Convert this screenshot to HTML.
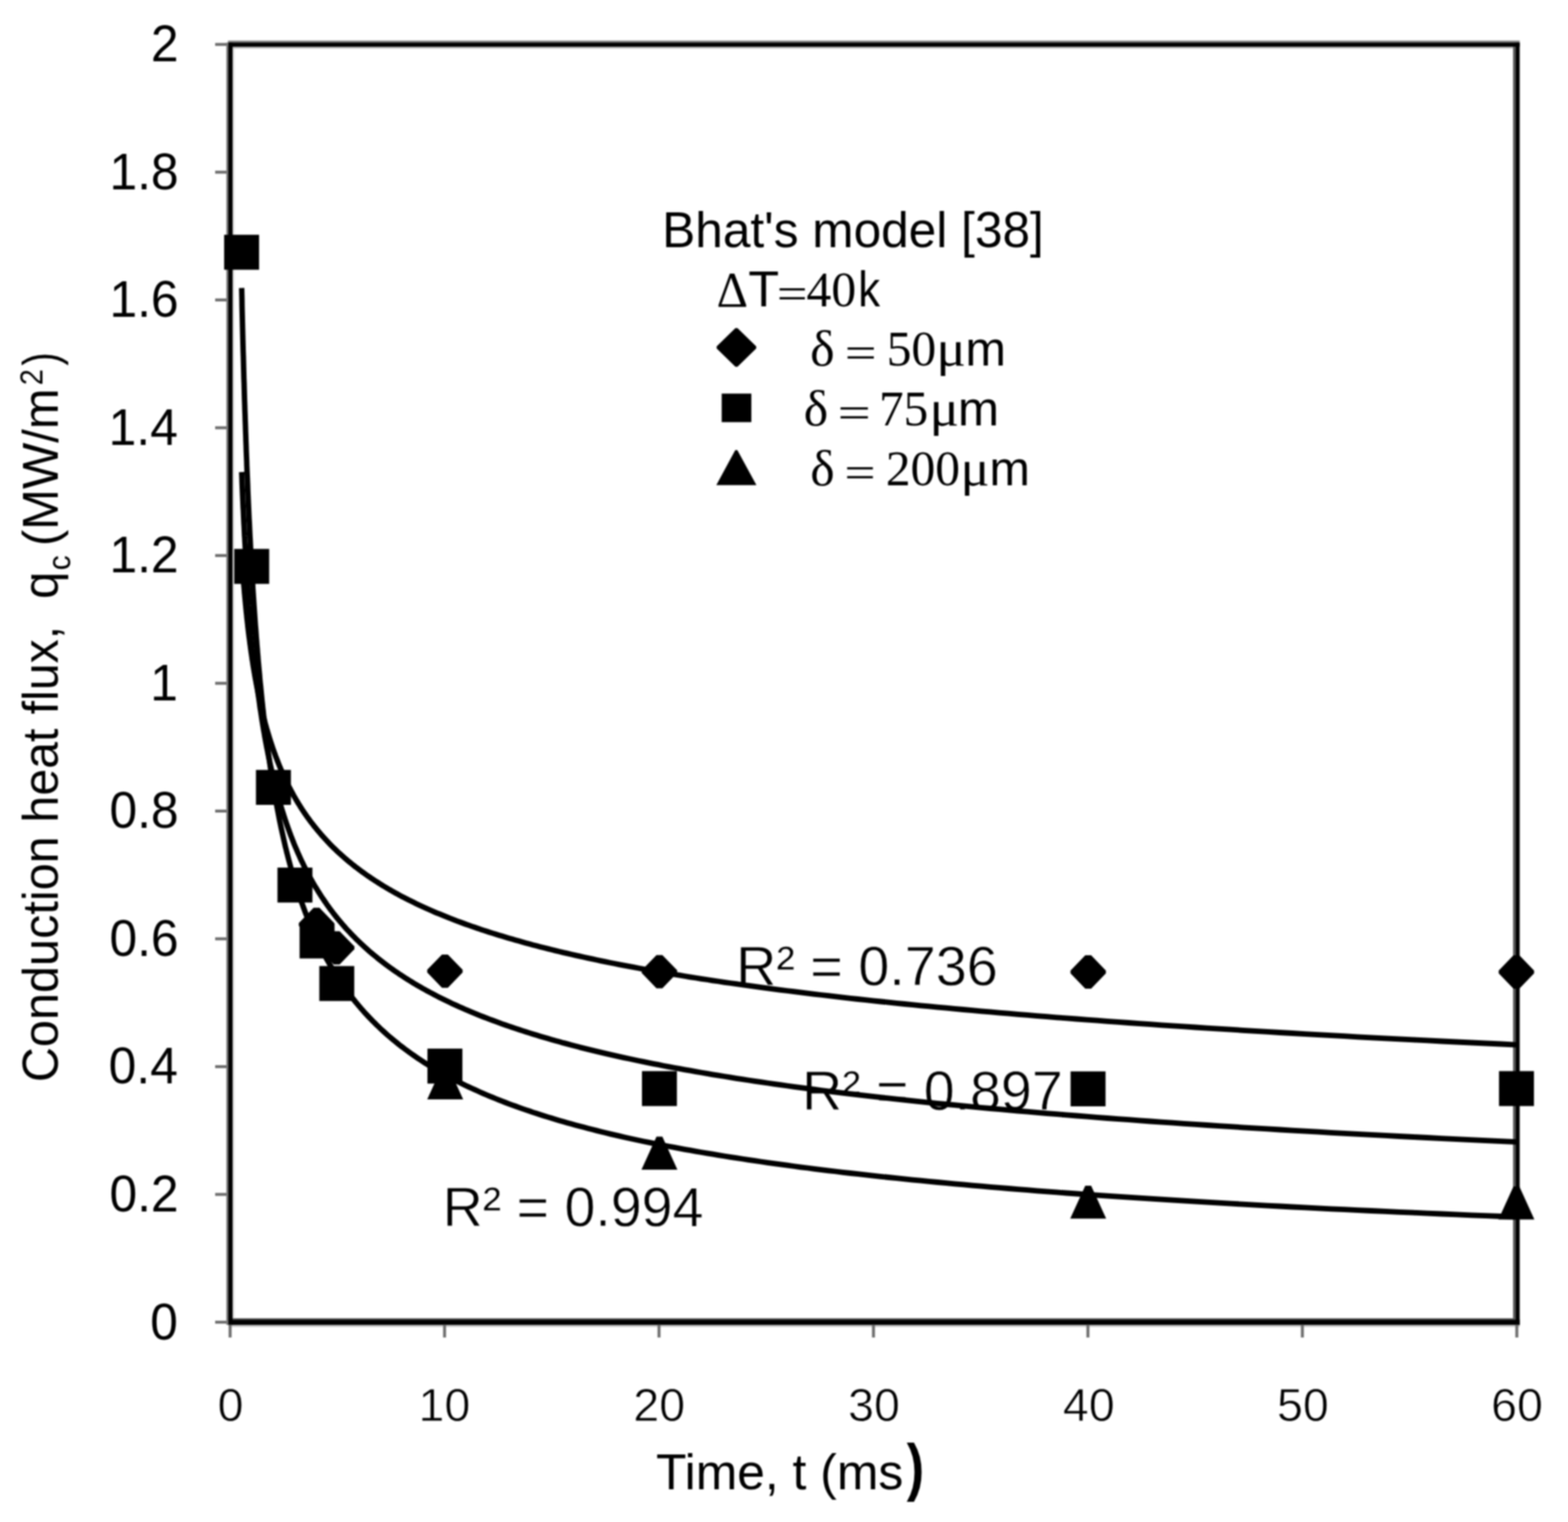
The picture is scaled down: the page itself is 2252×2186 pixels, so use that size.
<!DOCTYPE html>
<html lang="en"><head><meta charset="utf-8"><title>Conduction heat flux vs time</title>
<style>
html,body{margin:0;padding:0;background:#fff;}
body{width:2252px;height:2186px;overflow:hidden;}
svg{display:block;filter:blur(1px);}
text{font-family:"Liberation Sans",sans-serif;fill:#000;}
.tick{stroke:#6c6c6c;stroke-width:4.2;fill:none;}
.curve{stroke:#000;stroke-width:7.8;fill:none;stroke-linecap:butt;stroke-linejoin:round;}
</style></head><body>
<svg width="2252" height="2186" viewBox="0 0 2252 2186">
<rect x="0" y="0" width="2252" height="2186" fill="#fff"/>
<g>
<rect x="334.10" y="67.10" width="2.50" height="1826.50" fill="#dcdcdc"/>
<rect x="334.10" y="67.10" width="1839.00" height="2.50" fill="#b4b4b4"/>
<rect x="328.00" y="1902.90" width="1854.60" height="2.90" fill="#c4c4c4"/>
<rect x="325.10" y="61.10" width="2.90" height="1841.80" fill="#757575"/>
<rect x="327.40" y="58.30" width="1855.20" height="2.80" fill="#808080"/>
<rect x="2173.10" y="67.10" width="3.50" height="1826.50" fill="#555555"/>
<rect x="334.10" y="1893.60" width="1842.50" height="1.80" fill="#303030"/>
<rect x="328.00" y="61.10" width="6.10" height="1841.80" fill="#000"/>
<rect x="328.00" y="61.10" width="1854.60" height="6.00" fill="#000"/>
<rect x="2176.60" y="61.10" width="6.00" height="1841.80" fill="#000"/>
<rect x="328.00" y="1895.40" width="1854.60" height="7.50" fill="#000"/>
</g>
<g class="tick">
<line x1="309" x2="325.6" y1="1899.0" y2="1899.0"/>
<line x1="309" x2="325.6" y1="1715.5" y2="1715.5"/>
<line x1="309" x2="325.6" y1="1532.0" y2="1532.0"/>
<line x1="309" x2="325.6" y1="1348.4" y2="1348.4"/>
<line x1="309" x2="325.6" y1="1164.9" y2="1164.9"/>
<line x1="309" x2="325.6" y1="981.4" y2="981.4"/>
<line x1="309" x2="325.6" y1="797.9" y2="797.9"/>
<line x1="309" x2="325.6" y1="614.4" y2="614.4"/>
<line x1="309" x2="325.6" y1="430.8" y2="430.8"/>
<line x1="309" x2="325.6" y1="247.3" y2="247.3"/>
<line x1="309" x2="325.6" y1="63.8" y2="63.8"/>
<line x1="330.5" x2="330.5" y1="1902.6" y2="1921"/>
<line x1="638.5" x2="638.5" y1="1902.6" y2="1921"/>
<line x1="946.5" x2="946.5" y1="1902.6" y2="1921"/>
<line x1="1254.5" x2="1254.5" y1="1902.6" y2="1921"/>
<line x1="1562.5" x2="1562.5" y1="1902.6" y2="1921"/>
<line x1="1870.5" x2="1870.5" y1="1902.6" y2="1921"/>
<line x1="2178.5" x2="2178.5" y1="1902.6" y2="1921"/>
</g>
<g>
<text transform="translate(215.66,1923.50) scale(0.9650,1.0000)" style="font-size:74px;" xml:space="preserve">0</text>
<text transform="translate(157.22,1739.98) scale(0.9650,1.0000)" style="font-size:74px;" xml:space="preserve">0.2</text>
<text transform="translate(156.11,1556.46) scale(0.9650,1.0000)" style="font-size:74px;" xml:space="preserve">0.4</text>
<text transform="translate(157.22,1372.94) scale(0.9650,1.0000)" style="font-size:74px;" xml:space="preserve">0.6</text>
<text transform="translate(157.22,1189.42) scale(0.9650,1.0000)" style="font-size:74px;" xml:space="preserve">0.8</text>
<text transform="translate(215.68,1005.90) scale(0.9650,1.0000)" style="font-size:74px;" xml:space="preserve">1</text>
<text transform="translate(157.22,822.38) scale(0.9650,1.0000)" style="font-size:74px;" xml:space="preserve">1.2</text>
<text transform="translate(156.11,638.86) scale(0.9650,1.0000)" style="font-size:74px;" xml:space="preserve">1.4</text>
<text transform="translate(157.22,455.34) scale(0.9650,1.0000)" style="font-size:74px;" xml:space="preserve">1.6</text>
<text transform="translate(157.22,271.82) scale(0.9650,1.0000)" style="font-size:74px;" xml:space="preserve">1.8</text>
<text transform="translate(216.78,88.30) scale(0.9650,1.0000)" style="font-size:74px;" xml:space="preserve">2</text>
</g>
<g>
<text transform="translate(312.56,2040.80) scale(1.0000,1.0000)" style="font-size:67px;" xml:space="preserve" stroke="#fff" stroke-width="0.9">0</text>
<text transform="translate(600.88,2040.80) scale(1.0000,1.0000)" style="font-size:67px;" xml:space="preserve" stroke="#fff" stroke-width="0.9">10</text>
<text transform="translate(909.40,2040.80) scale(1.0000,1.0000)" style="font-size:67px;" xml:space="preserve" stroke="#fff" stroke-width="0.9">20</text>
<text transform="translate(1217.93,2040.80) scale(1.0000,1.0000)" style="font-size:67px;" xml:space="preserve" stroke="#fff" stroke-width="0.9">30</text>
<text transform="translate(1526.45,2040.80) scale(1.0000,1.0000)" style="font-size:67px;" xml:space="preserve" stroke="#fff" stroke-width="0.9">40</text>
<text transform="translate(1833.93,2040.80) scale(1.0000,1.0000)" style="font-size:67px;" xml:space="preserve" stroke="#fff" stroke-width="0.9">50</text>
<text transform="translate(2141.40,2040.80) scale(1.0000,1.0000)" style="font-size:67px;" xml:space="preserve" stroke="#fff" stroke-width="0.9">60</text>
</g>
<text xml:space="preserve"><tspan x="942.18" y="2138.80" textLength="355.15" lengthAdjust="spacingAndGlyphs" style="font-size:72px;">Time, t (ms</tspan><tspan x="1302.20" y="2138.30" textLength="25.13" lengthAdjust="spacingAndGlyphs" style="font-size:90px;font-weight:bold;">)</tspan></text>
<text transform="translate(83.0,0) rotate(-90)" xml:space="preserve"><tspan x="-1554.37" y="0.00" textLength="353.29" lengthAdjust="spacingAndGlyphs" style="font-size:72px;">Conduction</tspan><tspan> </tspan><tspan x="-1181.44" y="0.00" textLength="135.00" lengthAdjust="spacingAndGlyphs" style="font-size:72px;">heat</tspan><tspan> </tspan><tspan x="-1025.90" y="0.00" textLength="126.87" lengthAdjust="spacingAndGlyphs" style="font-size:72px;">flux,</tspan><tspan> </tspan><tspan> </tspan><tspan x="-860.21" y="0.00" textLength="39.39" lengthAdjust="spacingAndGlyphs" style="font-size:72px;">q</tspan><tspan x="-818.94" y="17.60" textLength="21.41" lengthAdjust="spacingAndGlyphs" style="font-size:47px;">c</tspan><tspan> </tspan><tspan x="-784.30" y="0.00" textLength="226.43" lengthAdjust="spacingAndGlyphs" style="font-size:72px;">(MW/m</tspan><tspan x="-553.34" y="-22.00" textLength="23.02" lengthAdjust="spacingAndGlyphs" style="font-size:47px;">2</tspan><tspan x="-525.00" y="0.00" textLength="19.18" lengthAdjust="spacingAndGlyphs" style="font-size:72px;">)</tspan></text>
<text transform="translate(635.67,1761.40) scale(0.9972,1.0000)" style="font-size:80px;" xml:space="preserve" stroke="#fff" stroke-width="0.8">R² = 0.994</text>
<text transform="translate(1057.15,1415.00) scale(1.0000,1.0000)" style="font-size:80px;" xml:space="preserve" stroke="#fff" stroke-width="0.8">R² = 0.736</text>
<text transform="translate(1151.98,1594.10) scale(0.9959,1.0000)" style="font-size:80px;" xml:space="preserve" stroke="#fff" stroke-width="0.8">R² = 0.897</text>
<path class="curve" d="M347.1,797.9 L347.3,800.7 L347.5,803.4 L347.6,806.2 L347.8,809.0 L348.0,811.8 L348.2,814.5 L348.4,817.3 L348.6,820.0 L348.8,822.8 L349.0,825.5 L349.2,828.2 L349.5,830.9 L349.7,833.7 L349.9,836.4 L350.1,839.1 L350.3,841.7 L350.6,844.4 L350.8,847.1 L351.0,849.8 L351.2,852.4 L351.5,855.1 L351.7,857.8 L352.0,860.4 L352.2,863.0 L352.5,865.7 L352.7,868.3 L353.0,870.9 L353.2,873.5 L353.5,876.1 L353.7,878.7 L354.0,881.3 L354.3,883.9 L354.5,886.5 L354.8,889.0 L355.1,891.6 L355.4,894.2 L355.7,896.7 L355.9,899.3 L356.2,901.8 L356.5,904.3 L356.8,906.8 L357.1,909.4 L357.4,911.9 L357.7,914.4 L358.1,916.9 L358.4,919.4 L358.7,921.9 L359.0,924.3 L359.4,926.8 L359.7,929.3 L360.0,931.8 L360.4,934.2 L360.7,936.7 L361.1,939.1 L361.4,941.5 L361.8,944.0 L362.1,946.4 L362.5,948.8 L362.9,951.2 L363.2,953.6 L363.6,956.0 L364.0,958.4 L364.4,960.8 L364.8,963.2 L365.2,965.6 L365.6,967.9 L366.0,970.3 L366.4,972.7 L366.8,975.0 L367.3,977.4 L367.7,979.7 L368.1,982.0 L368.6,984.4 L369.0,986.7 L369.5,989.0 L369.9,991.3 L370.4,993.6 L370.8,995.9 L371.3,998.2 L371.8,1000.5 L372.3,1002.8 L372.8,1005.0 L373.2,1007.3 L373.7,1009.6 L374.3,1011.8 L374.8,1014.1 L375.3,1016.3 L375.8,1018.6 L376.3,1020.8 L376.9,1023.0 L377.4,1025.3 L378.0,1027.5 L378.5,1029.7 L379.1,1031.9 L379.7,1034.1 L380.2,1036.3 L380.8,1038.5 L381.4,1040.7 L382.0,1042.9 L382.6,1045.0 L383.2,1047.2 L383.9,1049.4 L384.5,1051.5 L385.1,1053.7 L385.8,1055.8 L386.4,1058.0 L387.1,1060.1 L387.7,1062.2 L388.4,1064.3 L389.1,1066.5 L389.8,1068.6 L390.5,1070.7 L391.2,1072.8 L391.9,1074.9 L392.6,1077.0 L393.4,1079.1 L394.1,1081.1 L394.9,1083.2 L395.6,1085.3 L396.4,1087.4 L397.2,1089.4 L398.0,1091.5 L398.8,1093.5 L399.6,1095.6 L400.4,1097.6 L401.2,1099.6 L402.0,1101.7 L402.9,1103.7 L403.7,1105.7 L404.6,1107.7 L405.5,1109.7 L406.4,1111.7 L407.3,1113.7 L408.2,1115.7 L409.1,1117.7 L410.0,1119.7 L411.0,1121.7 L411.9,1123.7 L412.9,1125.6 L413.9,1127.6 L414.9,1129.5 L415.9,1131.5 L416.9,1133.4 L417.9,1135.4 L419.0,1137.3 L420.0,1139.3 L421.1,1141.2 L422.1,1143.1 L423.2,1145.0 L424.3,1146.9 L425.5,1148.9 L426.6,1150.8 L427.7,1152.7 L428.9,1154.6 L430.1,1156.4 L431.2,1158.3 L432.4,1160.2 L433.6,1162.1 L434.9,1164.0 L436.1,1165.8 L437.4,1167.7 L438.6,1169.5 L439.9,1171.4 L441.2,1173.2 L442.6,1175.1 L443.9,1176.9 L445.2,1178.7 L446.6,1180.6 L448.0,1182.4 L449.4,1184.2 L450.8,1186.0 L452.2,1187.8 L453.7,1189.6 L455.2,1191.4 L456.7,1193.2 L458.2,1195.0 L459.7,1196.8 L461.2,1198.6 L462.8,1200.4 L464.4,1202.2 L466.0,1203.9 L467.6,1205.7 L469.2,1207.4 L470.9,1209.2 L472.5,1211.0 L474.2,1212.7 L475.9,1214.4 L477.7,1216.2 L479.4,1217.9 L481.2,1219.6 L483.0,1221.4 L484.8,1223.1 L486.7,1224.8 L488.6,1226.5 L490.4,1228.2 L492.4,1229.9 L494.3,1231.6 L496.2,1233.3 L498.2,1235.0 L500.2,1236.7 L502.3,1238.4 L504.3,1240.0 L506.4,1241.7 L508.5,1243.4 L510.6,1245.1 L512.8,1246.7 L515.0,1248.4 L517.2,1250.0 L519.4,1251.7 L521.7,1253.3 L523.9,1254.9 L526.3,1256.6 L528.6,1258.2 L531.0,1259.8 L533.4,1261.5 L535.8,1263.1 L538.3,1264.7 L540.8,1266.3 L543.3,1267.9 L545.8,1269.5 L548.4,1271.1 L551.0,1272.7 L553.6,1274.3 L556.3,1275.9 L559.0,1277.5 L561.8,1279.0 L564.5,1280.6 L567.3,1282.2 L570.2,1283.7 L573.0,1285.3 L575.9,1286.9 L578.9,1288.4 L581.9,1290.0 L584.9,1291.5 L587.9,1293.1 L591.0,1294.6 L594.1,1296.1 L597.3,1297.7 L600.5,1299.2 L603.7,1300.7 L607.0,1302.2 L610.3,1303.7 L613.7,1305.3 L617.1,1306.8 L620.5,1308.3 L624.0,1309.8 L627.5,1311.3 L631.1,1312.7 L634.7,1314.2 L638.3,1315.7 L642.0,1317.2 L645.7,1318.7 L649.5,1320.1 L653.3,1321.6 L657.2,1323.1 L661.1,1324.5 L665.1,1326.0 L669.1,1327.5 L673.2,1328.9 L677.3,1330.4 L681.5,1331.8 L685.7,1333.2 L689.9,1334.7 L694.2,1336.1 L698.6,1337.5 L703.0,1339.0 L707.5,1340.4 L712.0,1341.8 L716.6,1343.2 L721.2,1344.6 L725.9,1346.0 L730.7,1347.4 L735.5,1348.8 L740.3,1350.2 L745.3,1351.6 L750.2,1353.0 L755.3,1354.4 L760.4,1355.8 L765.5,1357.2 L770.8,1358.5 L776.0,1359.9 L781.4,1361.3 L786.8,1362.6 L792.3,1364.0 L797.8,1365.4 L803.5,1366.7 L809.1,1368.1 L814.9,1369.4 L820.7,1370.8 L826.6,1372.1 L832.5,1373.4 L838.6,1374.8 L844.7,1376.1 L850.9,1377.4 L857.1,1378.7 L863.4,1380.1 L869.8,1381.4 L876.3,1382.7 L882.9,1384.0 L889.5,1385.3 L896.2,1386.6 L903.0,1387.9 L909.9,1389.2 L916.9,1390.5 L923.9,1391.8 L931.0,1393.1 L938.3,1394.4 L945.6,1395.6 L952.9,1396.9 L960.4,1398.2 L968.0,1399.5 L975.7,1400.7 L983.4,1402.0 L991.3,1403.3 L999.2,1404.5 L1007.2,1405.8 L1015.4,1407.0 L1023.6,1408.3 L1031.9,1409.5 L1040.4,1410.8 L1048.9,1412.0 L1057.5,1413.2 L1066.3,1414.5 L1075.1,1415.7 L1084.1,1416.9 L1093.1,1418.1 L1102.3,1419.4 L1111.6,1420.6 L1121.0,1421.8 L1130.5,1423.0 L1140.1,1424.2 L1149.8,1425.4 L1159.7,1426.6 L1169.6,1427.8 L1179.7,1429.0 L1189.9,1430.2 L1200.3,1431.4 L1210.7,1432.6 L1221.3,1433.8 L1232.0,1435.0 L1242.9,1436.1 L1253.8,1437.3 L1264.9,1438.5 L1276.2,1439.6 L1287.6,1440.8 L1299.1,1442.0 L1310.7,1443.1 L1322.5,1444.3 L1334.4,1445.4 L1346.5,1446.6 L1358.7,1447.7 L1371.1,1448.9 L1383.6,1450.0 L1396.3,1451.2 L1409.1,1452.3 L1422.1,1453.4 L1435.2,1454.6 L1448.5,1455.7 L1461.9,1456.8 L1475.5,1457.9 L1489.3,1459.1 L1503.2,1460.2 L1517.3,1461.3 L1531.6,1462.4 L1546.1,1463.5 L1560.7,1464.6 L1575.5,1465.7 L1590.5,1466.8 L1605.6,1467.9 L1621.0,1469.0 L1636.5,1470.1 L1652.2,1471.2 L1668.1,1472.3 L1684.2,1473.4 L1700.5,1474.4 L1716.9,1475.5 L1733.6,1476.6 L1750.5,1477.7 L1767.6,1478.7 L1784.9,1479.8 L1802.4,1480.9 L1820.1,1481.9 L1838.0,1483.0 L1856.1,1484.0 L1874.5,1485.1 L1893.1,1486.1 L1911.9,1487.2 L1930.9,1488.2 L1950.2,1489.3 L1969.6,1490.3 L1989.4,1491.3 L2009.3,1492.4 L2029.5,1493.4 L2050.0,1494.4 L2070.7,1495.5 L2091.6,1496.5 L2112.8,1497.5 L2134.2,1498.5 L2155.9,1499.5 L2177.9,1500.6"/>
<path class="curve" d="M347.1,678.0 L347.3,682.8 L347.5,687.5 L347.6,692.2 L347.8,696.8 L348.0,701.5 L348.2,706.1 L348.4,710.8 L348.6,715.4 L348.8,719.9 L349.0,724.5 L349.2,729.0 L349.5,733.6 L349.7,738.1 L349.9,742.6 L350.1,747.1 L350.3,751.5 L350.6,756.0 L350.8,760.4 L351.0,764.8 L351.2,769.2 L351.5,773.6 L351.7,777.9 L352.0,782.3 L352.2,786.6 L352.5,790.9 L352.7,795.2 L353.0,799.5 L353.2,803.7 L353.5,808.0 L353.7,812.2 L354.0,816.4 L354.3,820.6 L354.5,824.8 L354.8,828.9 L355.1,833.1 L355.4,837.2 L355.7,841.3 L355.9,845.4 L356.2,849.5 L356.5,853.5 L356.8,857.6 L357.1,861.6 L357.4,865.6 L357.7,869.6 L358.1,873.6 L358.4,877.6 L358.7,881.6 L359.0,885.5 L359.4,889.4 L359.7,893.3 L360.0,897.2 L360.4,901.1 L360.7,905.0 L361.1,908.8 L361.4,912.6 L361.8,916.5 L362.1,920.3 L362.5,924.1 L362.9,927.8 L363.2,931.6 L363.6,935.3 L364.0,939.1 L364.4,942.8 L364.8,946.5 L365.2,950.2 L365.6,953.9 L366.0,957.5 L366.4,961.2 L366.8,964.8 L367.3,968.4 L367.7,972.0 L368.1,975.6 L368.6,979.2 L369.0,982.7 L369.5,986.3 L369.9,989.8 L370.4,993.3 L370.8,996.8 L371.3,1000.3 L371.8,1003.8 L372.3,1007.3 L372.8,1010.7 L373.2,1014.2 L373.7,1017.6 L374.3,1021.0 L374.8,1024.4 L375.3,1027.8 L375.8,1031.2 L376.3,1034.5 L376.9,1037.9 L377.4,1041.2 L378.0,1044.5 L378.5,1047.8 L379.1,1051.1 L379.7,1054.4 L380.2,1057.7 L380.8,1060.9 L381.4,1064.2 L382.0,1067.4 L382.6,1070.6 L383.2,1073.9 L383.9,1077.0 L384.5,1080.2 L385.1,1083.4 L385.8,1086.6 L386.4,1089.7 L387.1,1092.8 L387.7,1096.0 L388.4,1099.1 L389.1,1102.2 L389.8,1105.2 L390.5,1108.3 L391.2,1111.4 L391.9,1114.4 L392.6,1117.5 L393.4,1120.5 L394.1,1123.5 L394.9,1126.5 L395.6,1129.5 L396.4,1132.5 L397.2,1135.4 L398.0,1138.4 L398.8,1141.3 L399.6,1144.3 L400.4,1147.2 L401.2,1150.1 L402.0,1153.0 L402.9,1155.9 L403.7,1158.8 L404.6,1161.6 L405.5,1164.5 L406.4,1167.3 L407.3,1170.2 L408.2,1173.0 L409.1,1175.8 L410.0,1178.6 L411.0,1181.4 L411.9,1184.2 L412.9,1186.9 L413.9,1189.7 L414.9,1192.4 L415.9,1195.2 L416.9,1197.9 L417.9,1200.6 L419.0,1203.3 L420.0,1206.0 L421.1,1208.7 L422.1,1211.4 L423.2,1214.0 L424.3,1216.7 L425.5,1219.3 L426.6,1222.0 L427.7,1224.6 L428.9,1227.2 L430.1,1229.8 L431.2,1232.4 L432.4,1235.0 L433.6,1237.5 L434.9,1240.1 L436.1,1242.6 L437.4,1245.2 L438.6,1247.7 L439.9,1250.2 L441.2,1252.7 L442.6,1255.2 L443.9,1257.7 L445.2,1260.2 L446.6,1262.7 L448.0,1265.2 L449.4,1267.6 L450.8,1270.1 L452.2,1272.5 L453.7,1274.9 L455.2,1277.3 L456.7,1279.7 L458.2,1282.1 L459.7,1284.5 L461.2,1286.9 L462.8,1289.3 L464.4,1291.6 L466.0,1294.0 L467.6,1296.3 L469.2,1298.7 L470.9,1301.0 L472.5,1303.3 L474.2,1305.6 L475.9,1307.9 L477.7,1310.2 L479.4,1312.5 L481.2,1314.7 L483.0,1317.0 L484.8,1319.2 L486.7,1321.5 L488.6,1323.7 L490.4,1325.9 L492.4,1328.2 L494.3,1330.4 L496.2,1332.6 L498.2,1334.8 L500.2,1337.0 L502.3,1339.1 L504.3,1341.3 L506.4,1343.5 L508.5,1345.6 L510.6,1347.7 L512.8,1349.9 L515.0,1352.0 L517.2,1354.1 L519.4,1356.2 L521.7,1358.3 L523.9,1360.4 L526.3,1362.5 L528.6,1364.6 L531.0,1366.7 L533.4,1368.7 L535.8,1370.8 L538.3,1372.8 L540.8,1374.8 L543.3,1376.9 L545.8,1378.9 L548.4,1380.9 L551.0,1382.9 L553.6,1384.9 L556.3,1386.9 L559.0,1388.9 L561.8,1390.9 L564.5,1392.8 L567.3,1394.8 L570.2,1396.7 L573.0,1398.7 L575.9,1400.6 L578.9,1402.5 L581.9,1404.5 L584.9,1406.4 L587.9,1408.3 L591.0,1410.2 L594.1,1412.1 L597.3,1414.0 L600.5,1415.8 L603.7,1417.7 L607.0,1419.6 L610.3,1421.4 L613.7,1423.3 L617.1,1425.1 L620.5,1426.9 L624.0,1428.8 L627.5,1430.6 L631.1,1432.4 L634.7,1434.2 L638.3,1436.0 L642.0,1437.8 L645.7,1439.6 L649.5,1441.4 L653.3,1443.1 L657.2,1444.9 L661.1,1446.7 L665.1,1448.4 L669.1,1450.2 L673.2,1451.9 L677.3,1453.6 L681.5,1455.3 L685.7,1457.1 L689.9,1458.8 L694.2,1460.5 L698.6,1462.2 L703.0,1463.9 L707.5,1465.5 L712.0,1467.2 L716.6,1468.9 L721.2,1470.6 L725.9,1472.2 L730.7,1473.9 L735.5,1475.5 L740.3,1477.1 L745.3,1478.8 L750.2,1480.4 L755.3,1482.0 L760.4,1483.6 L765.5,1485.2 L770.8,1486.8 L776.0,1488.4 L781.4,1490.0 L786.8,1491.6 L792.3,1493.2 L797.8,1494.8 L803.5,1496.3 L809.1,1497.9 L814.9,1499.4 L820.7,1501.0 L826.6,1502.5 L832.5,1504.1 L838.6,1505.6 L844.7,1507.1 L850.9,1508.6 L857.1,1510.1 L863.4,1511.6 L869.8,1513.1 L876.3,1514.6 L882.9,1516.1 L889.5,1517.6 L896.2,1519.1 L903.0,1520.5 L909.9,1522.0 L916.9,1523.5 L923.9,1524.9 L931.0,1526.4 L938.3,1527.8 L945.6,1529.2 L952.9,1530.7 L960.4,1532.1 L968.0,1533.5 L975.7,1534.9 L983.4,1536.3 L991.3,1537.7 L999.2,1539.1 L1007.2,1540.5 L1015.4,1541.9 L1023.6,1543.3 L1031.9,1544.7 L1040.4,1546.0 L1048.9,1547.4 L1057.5,1548.8 L1066.3,1550.1 L1075.1,1551.5 L1084.1,1552.8 L1093.1,1554.2 L1102.3,1555.5 L1111.6,1556.8 L1121.0,1558.1 L1130.5,1559.5 L1140.1,1560.8 L1149.8,1562.1 L1159.7,1563.4 L1169.6,1564.7 L1179.7,1566.0 L1189.9,1567.3 L1200.3,1568.6 L1210.7,1569.8 L1221.3,1571.1 L1232.0,1572.4 L1242.9,1573.6 L1253.8,1574.9 L1264.9,1576.1 L1276.2,1577.4 L1287.6,1578.6 L1299.1,1579.9 L1310.7,1581.1 L1322.5,1582.3 L1334.4,1583.6 L1346.5,1584.8 L1358.7,1586.0 L1371.1,1587.2 L1383.6,1588.4 L1396.3,1589.6 L1409.1,1590.8 L1422.1,1592.0 L1435.2,1593.2 L1448.5,1594.4 L1461.9,1595.6 L1475.5,1596.7 L1489.3,1597.9 L1503.2,1599.1 L1517.3,1600.2 L1531.6,1601.4 L1546.1,1602.5 L1560.7,1603.7 L1575.5,1604.8 L1590.5,1606.0 L1605.6,1607.1 L1621.0,1608.2 L1636.5,1609.3 L1652.2,1610.5 L1668.1,1611.6 L1684.2,1612.7 L1700.5,1613.8 L1716.9,1614.9 L1733.6,1616.0 L1750.5,1617.1 L1767.6,1618.2 L1784.9,1619.3 L1802.4,1620.4 L1820.1,1621.4 L1838.0,1622.5 L1856.1,1623.6 L1874.5,1624.6 L1893.1,1625.7 L1911.9,1626.8 L1930.9,1627.8 L1950.2,1628.9 L1969.6,1629.9 L1989.4,1630.9 L2009.3,1632.0 L2029.5,1633.0 L2050.0,1634.0 L2070.7,1635.1 L2091.6,1636.1 L2112.8,1637.1 L2134.2,1638.1 L2155.9,1639.1 L2177.9,1640.1"/>
<path class="curve" d="M347.1,413.7 L347.3,422.1 L347.5,430.6 L347.6,438.9 L347.8,447.3 L348.0,455.5 L348.2,463.8 L348.4,472.0 L348.6,480.1 L348.8,488.2 L349.0,496.2 L349.2,504.2 L349.5,512.2 L349.7,520.1 L349.9,528.0 L350.1,535.8 L350.3,543.6 L350.6,551.3 L350.8,559.0 L351.0,566.6 L351.2,574.2 L351.5,581.8 L351.7,589.3 L352.0,596.7 L352.2,604.2 L352.5,611.6 L352.7,618.9 L353.0,626.2 L353.2,633.4 L353.5,640.7 L353.7,647.8 L354.0,655.0 L354.3,662.1 L354.5,669.1 L354.8,676.1 L355.1,683.1 L355.4,690.0 L355.7,696.9 L355.9,703.8 L356.2,710.6 L356.5,717.4 L356.8,724.1 L357.1,730.8 L357.4,737.5 L357.7,744.1 L358.1,750.7 L358.4,757.2 L358.7,763.8 L359.0,770.2 L359.4,776.7 L359.7,783.1 L360.0,789.4 L360.4,795.8 L360.7,802.0 L361.1,808.3 L361.4,814.5 L361.8,820.7 L362.1,826.8 L362.5,833.0 L362.9,839.0 L363.2,845.1 L363.6,851.1 L364.0,857.1 L364.4,863.0 L364.8,868.9 L365.2,874.8 L365.6,880.6 L366.0,886.4 L366.4,892.2 L366.8,898.0 L367.3,903.7 L367.7,909.3 L368.1,915.0 L368.6,920.6 L369.0,926.2 L369.5,931.7 L369.9,937.2 L370.4,942.7 L370.8,948.2 L371.3,953.6 L371.8,959.0 L372.3,964.3 L372.8,969.7 L373.2,975.0 L373.7,980.2 L374.3,985.5 L374.8,990.7 L375.3,995.9 L375.8,1001.0 L376.3,1006.1 L376.9,1011.2 L377.4,1016.3 L378.0,1021.3 L378.5,1026.3 L379.1,1031.3 L379.7,1036.2 L380.2,1041.2 L380.8,1046.1 L381.4,1050.9 L382.0,1055.7 L382.6,1060.6 L383.2,1065.3 L383.9,1070.1 L384.5,1074.8 L385.1,1079.5 L385.8,1084.2 L386.4,1088.8 L387.1,1093.5 L387.7,1098.0 L388.4,1102.6 L389.1,1107.1 L389.8,1111.7 L390.5,1116.2 L391.2,1120.6 L391.9,1125.1 L392.6,1129.5 L393.4,1133.9 L394.1,1138.2 L394.9,1142.6 L395.6,1146.9 L396.4,1151.2 L397.2,1155.4 L398.0,1159.7 L398.8,1163.9 L399.6,1168.1 L400.4,1172.2 L401.2,1176.4 L402.0,1180.5 L402.9,1184.6 L403.7,1188.7 L404.6,1192.7 L405.5,1196.7 L406.4,1200.7 L407.3,1204.7 L408.2,1208.7 L409.1,1212.6 L410.0,1216.5 L411.0,1220.4 L411.9,1224.3 L412.9,1228.1 L413.9,1232.0 L414.9,1235.8 L415.9,1239.5 L416.9,1243.3 L417.9,1247.0 L419.0,1250.8 L420.0,1254.4 L421.1,1258.1 L422.1,1261.8 L423.2,1265.4 L424.3,1269.0 L425.5,1272.6 L426.6,1276.2 L427.7,1279.7 L428.9,1283.3 L430.1,1286.8 L431.2,1290.3 L432.4,1293.7 L433.6,1297.2 L434.9,1300.6 L436.1,1304.0 L437.4,1307.4 L438.6,1310.8 L439.9,1314.1 L441.2,1317.5 L442.6,1320.8 L443.9,1324.1 L445.2,1327.4 L446.6,1330.6 L448.0,1333.9 L449.4,1337.1 L450.8,1340.3 L452.2,1343.5 L453.7,1346.6 L455.2,1349.8 L456.7,1352.9 L458.2,1356.0 L459.7,1359.1 L461.2,1362.2 L462.8,1365.3 L464.4,1368.3 L466.0,1371.3 L467.6,1374.3 L469.2,1377.3 L470.9,1380.3 L472.5,1383.2 L474.2,1386.2 L475.9,1389.1 L477.7,1392.0 L479.4,1394.9 L481.2,1397.8 L483.0,1400.6 L484.8,1403.5 L486.7,1406.3 L488.6,1409.1 L490.4,1411.9 L492.4,1414.7 L494.3,1417.4 L496.2,1420.2 L498.2,1422.9 L500.2,1425.6 L502.3,1428.3 L504.3,1431.0 L506.4,1433.7 L508.5,1436.3 L510.6,1439.0 L512.8,1441.6 L515.0,1444.2 L517.2,1446.8 L519.4,1449.4 L521.7,1451.9 L523.9,1454.5 L526.3,1457.0 L528.6,1459.5 L531.0,1462.0 L533.4,1464.5 L535.8,1467.0 L538.3,1469.4 L540.8,1471.9 L543.3,1474.3 L545.8,1476.7 L548.4,1479.2 L551.0,1481.5 L553.6,1483.9 L556.3,1486.3 L559.0,1488.6 L561.8,1491.0 L564.5,1493.3 L567.3,1495.6 L570.2,1497.9 L573.0,1500.2 L575.9,1502.5 L578.9,1504.7 L581.9,1507.0 L584.9,1509.2 L587.9,1511.4 L591.0,1513.6 L594.1,1515.8 L597.3,1518.0 L600.5,1520.2 L603.7,1522.3 L607.0,1524.5 L610.3,1526.6 L613.7,1528.7 L617.1,1530.9 L620.5,1533.0 L624.0,1535.0 L627.5,1537.1 L631.1,1539.2 L634.7,1541.2 L638.3,1543.3 L642.0,1545.3 L645.7,1547.3 L649.5,1549.3 L653.3,1551.3 L657.2,1553.3 L661.1,1555.2 L665.1,1557.2 L669.1,1559.2 L673.2,1561.1 L677.3,1563.0 L681.5,1564.9 L685.7,1566.8 L689.9,1568.7 L694.2,1570.6 L698.6,1572.5 L703.0,1574.3 L707.5,1576.2 L712.0,1578.0 L716.6,1579.9 L721.2,1581.7 L725.9,1583.5 L730.7,1585.3 L735.5,1587.1 L740.3,1588.8 L745.3,1590.6 L750.2,1592.4 L755.3,1594.1 L760.4,1595.8 L765.5,1597.6 L770.8,1599.3 L776.0,1601.0 L781.4,1602.7 L786.8,1604.4 L792.3,1606.1 L797.8,1607.7 L803.5,1609.4 L809.1,1611.0 L814.9,1612.7 L820.7,1614.3 L826.6,1615.9 L832.5,1617.5 L838.6,1619.1 L844.7,1620.7 L850.9,1622.3 L857.1,1623.9 L863.4,1625.5 L869.8,1627.0 L876.3,1628.6 L882.9,1630.1 L889.5,1631.6 L896.2,1633.2 L903.0,1634.7 L909.9,1636.2 L916.9,1637.7 L923.9,1639.2 L931.0,1640.6 L938.3,1642.1 L945.6,1643.6 L952.9,1645.0 L960.4,1646.5 L968.0,1647.9 L975.7,1649.3 L983.4,1650.8 L991.3,1652.2 L999.2,1653.6 L1007.2,1655.0 L1015.4,1656.4 L1023.6,1657.7 L1031.9,1659.1 L1040.4,1660.5 L1048.9,1661.8 L1057.5,1663.2 L1066.3,1664.5 L1075.1,1665.9 L1084.1,1667.2 L1093.1,1668.5 L1102.3,1669.8 L1111.6,1671.1 L1121.0,1672.4 L1130.5,1673.7 L1140.1,1675.0 L1149.8,1676.3 L1159.7,1677.5 L1169.6,1678.8 L1179.7,1680.1 L1189.9,1681.3 L1200.3,1682.5 L1210.7,1683.8 L1221.3,1685.0 L1232.0,1686.2 L1242.9,1687.4 L1253.8,1688.6 L1264.9,1689.8 L1276.2,1691.0 L1287.6,1692.2 L1299.1,1693.4 L1310.7,1694.6 L1322.5,1695.7 L1334.4,1696.9 L1346.5,1698.0 L1358.7,1699.2 L1371.1,1700.3 L1383.6,1701.4 L1396.3,1702.6 L1409.1,1703.7 L1422.1,1704.8 L1435.2,1705.9 L1448.5,1707.0 L1461.9,1708.1 L1475.5,1709.2 L1489.3,1710.3 L1503.2,1711.3 L1517.3,1712.4 L1531.6,1713.5 L1546.1,1714.5 L1560.7,1715.6 L1575.5,1716.6 L1590.5,1717.6 L1605.6,1718.7 L1621.0,1719.7 L1636.5,1720.7 L1652.2,1721.7 L1668.1,1722.7 L1684.2,1723.7 L1700.5,1724.7 L1716.9,1725.7 L1733.6,1726.7 L1750.5,1727.7 L1767.6,1728.7 L1784.9,1729.6 L1802.4,1730.6 L1820.1,1731.6 L1838.0,1732.5 L1856.1,1733.5 L1874.5,1734.4 L1893.1,1735.3 L1911.9,1736.3 L1930.9,1737.2 L1950.2,1738.1 L1969.6,1739.0 L1989.4,1739.9 L2009.3,1740.8 L2029.5,1741.7 L2050.0,1742.6 L2070.7,1743.5 L2091.6,1744.4 L2112.8,1745.3 L2134.2,1746.2 L2155.9,1747.0 L2177.9,1747.9"/>
<g fill="#000">
<polygon points="635.2,1531.6 643.6,1531.6 665.2,1579.0 613.6,1579.0"/>
<polygon points="942.9,1632.6 951.3,1632.6 972.9,1680.0 921.3,1680.0"/>
<polygon points="1558.7,1702.9 1567.1,1702.9 1588.7,1750.3 1537.1,1750.3"/>
<polygon points="2173.7,1704.0 2182.1,1704.0 2203.7,1751.4 2152.1,1751.4"/>
<polygon points="450.4,1303.8 458.8,1303.8 480.0,1325.7 480.0,1329.7 458.8,1351.6 450.4,1351.6 429.2,1329.7 429.2,1325.7"/>
<polygon points="479.4,1337.4 487.8,1337.4 509.0,1359.3 509.0,1363.3 487.8,1385.2 479.4,1385.2 458.2,1363.3 458.2,1359.3"/>
<polygon points="634.8,1370.9 643.2,1370.9 664.4,1392.8 664.4,1396.8 643.2,1418.7 634.8,1418.7 613.6,1396.8 613.6,1392.8"/>
<polygon points="942.9,1371.7 951.3,1371.7 972.5,1393.6 972.5,1397.6 951.3,1419.5 942.9,1419.5 921.7,1397.6 921.7,1393.6"/>
<polygon points="1558.7,1372.1 1567.1,1372.1 1588.3,1394.0 1588.3,1398.0 1567.1,1419.9 1558.7,1419.9 1537.5,1398.0 1537.5,1394.0"/>
<polygon points="2173.7,1372.1 2182.1,1372.1 2203.3,1394.0 2203.3,1398.0 2182.1,1419.9 2173.7,1419.9 2152.5,1398.0 2152.5,1394.0"/>
<rect x="321.9" y="337.2" width="50.2" height="50.2"/>
<rect x="336.4" y="788.4" width="50.2" height="50.2"/>
<rect x="367.6" y="1105.8" width="50.2" height="50.2"/>
<rect x="398.5" y="1246.1" width="50.2" height="50.2"/>
<rect x="430.3" y="1326.4" width="50.2" height="50.2"/>
<rect x="458.6" y="1387.5" width="50.2" height="50.2"/>
<rect x="613.9" y="1506.1" width="50.2" height="50.2"/>
<rect x="922.0" y="1538.4" width="50.2" height="50.2"/>
<rect x="1537.6" y="1538.8" width="50.2" height="50.2"/>
<rect x="2152.9" y="1538.4" width="50.2" height="50.2"/>
</g>
<text transform="translate(951.03,355.00) scale(0.9894,1.0000)" style="font-size:72px;" xml:space="preserve">Bhat's model [38]</text>
<text xml:space="preserve"><tspan x="1029.31" y="439.80" textLength="45.05" lengthAdjust="spacingAndGlyphs" style="font-size:72px;font-family:'Liberation Serif',serif;">Δ</tspan><tspan x="1074.87" y="439.80" textLength="44.17" lengthAdjust="spacingAndGlyphs" style="font-size:72px;">T</tspan><tspan x="1115.84" y="442.60" textLength="44.03" lengthAdjust="spacingAndGlyphs" style="font-size:63.5px;font-family:'Liberation Serif',serif;">=</tspan><tspan x="1158.29" y="439.80" textLength="71.34" lengthAdjust="spacingAndGlyphs" style="font-size:72.5px;font-family:'Liberation Serif',serif;">40</tspan><tspan x="1232.57" y="439.80" textLength="31.45" lengthAdjust="spacingAndGlyphs" style="font-size:72px;">k</tspan></text>
<text xml:space="preserve"><tspan x="1163.46" y="525.00" textLength="35.26" lengthAdjust="spacingAndGlyphs" style="font-size:71.5px;font-family:'Liberation Serif',serif;">δ</tspan><tspan> </tspan><tspan x="1213.30" y="527.80" textLength="45.72" lengthAdjust="spacingAndGlyphs" style="font-size:63.5px;font-family:'Liberation Serif',serif;">=</tspan><tspan> </tspan><tspan x="1273.46" y="525.00" textLength="71.16" lengthAdjust="spacingAndGlyphs" style="font-size:71.5px;font-family:'Liberation Serif',serif;">50</tspan><tspan x="1344.80" y="525.00" textLength="42.57" lengthAdjust="spacingAndGlyphs" style="font-size:71.5px;font-family:'Liberation Serif',serif;">μ</tspan><tspan x="1386.43" y="525.00" textLength="58.30" lengthAdjust="spacingAndGlyphs" style="font-size:71px;">m</tspan></text>
<text xml:space="preserve"><tspan x="1154.26" y="611.20" textLength="35.26" lengthAdjust="spacingAndGlyphs" style="font-size:71.5px;font-family:'Liberation Serif',serif;">δ</tspan><tspan> </tspan><tspan x="1203.14" y="614.00" textLength="47.64" lengthAdjust="spacingAndGlyphs" style="font-size:63.5px;font-family:'Liberation Serif',serif;">=</tspan><tspan> </tspan><tspan x="1262.38" y="611.20" textLength="70.73" lengthAdjust="spacingAndGlyphs" style="font-size:71.5px;font-family:'Liberation Serif',serif;">75</tspan><tspan x="1334.91" y="611.20" textLength="42.45" lengthAdjust="spacingAndGlyphs" style="font-size:71.5px;font-family:'Liberation Serif',serif;">μ</tspan><tspan x="1375.67" y="611.20" textLength="59.11" lengthAdjust="spacingAndGlyphs" style="font-size:71px;">m</tspan></text>
<text xml:space="preserve"><tspan x="1163.78" y="696.90" textLength="35.03" lengthAdjust="spacingAndGlyphs" style="font-size:71.5px;font-family:'Liberation Serif',serif;">δ</tspan><tspan> </tspan><tspan x="1212.68" y="699.70" textLength="44.76" lengthAdjust="spacingAndGlyphs" style="font-size:63.5px;font-family:'Liberation Serif',serif;">=</tspan><tspan> </tspan><tspan x="1272.28" y="696.90" textLength="106.64" lengthAdjust="spacingAndGlyphs" style="font-size:71.5px;font-family:'Liberation Serif',serif;">200</tspan><tspan x="1379.41" y="696.90" textLength="41.81" lengthAdjust="spacingAndGlyphs" style="font-size:71.5px;font-family:'Liberation Serif',serif;">μ</tspan><tspan x="1421.03" y="696.90" textLength="58.18" lengthAdjust="spacingAndGlyphs" style="font-size:71px;">m</tspan></text>
<g fill="#000">
<polygon points="1056.2,471.2 1059.2,471.2 1086.1,497.5 1086.1,500.5 1059.2,526.8 1056.2,526.8 1029.3,500.5 1029.3,497.5"/>
<rect x="1036.5" y="565.3" width="42.6" height="41.0"/>
<polygon points="1056.0,646.6 1059.0,646.6 1086.4,696.8 1028.8,696.8"/>
</g>
</svg>
</body></html>
